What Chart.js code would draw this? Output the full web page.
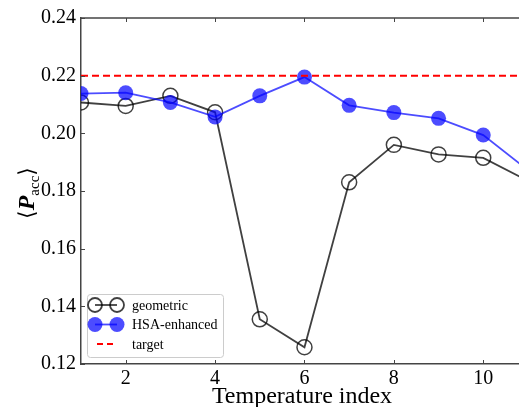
<!DOCTYPE html>
<html>
<head>
<meta charset="utf-8">
<script src="https://cdn.jsdelivr.net/npm/chart.js@4/dist/chart.umd.min.js"></script>
<style>
html,body{margin:0;padding:0;background:#fff;}
canvas{display:block;}
</style>
</head>
<body>
<canvas id="c" width="519" height="407"></canvas>
<script>
// ---- data ----
const temperatureIndex = [1, 2, 3, 4, 5, 6, 7, 8, 9, 10, 11];
const geometric   = [0.2107, 0.2095, 0.2130, 0.2073, 0.1355, 0.1258, 0.1830, 0.1960, 0.1927, 0.1915, 0.1835];
const hsaEnhanced = [0.2138, 0.2141, 0.2107, 0.2057, 0.2130, 0.2195, 0.2097, 0.2072, 0.2052, 0.1994, 0.1872];
const targetValue = 0.22;
const targetX = [1, 10.8];
const xTicks = [2, 4, 6, 8, 10];
const yTicks = [0.12, 0.14, 0.16, 0.18, 0.20, 0.22, 0.24];
const seriesLabels = ['geometric', 'HSA-enhanced', 'target'];
const xTitle = 'Temperature index';

const SERIF = '"Liberation Serif", "DejaVu Serif", serif';
const BLUE = 'rgba(0,0,255,0.7)';
const DARK = 'rgba(0,0,0,0.75)';

const toXY = (xs, ys) => xs.map((x, i) => ({x, y: ys[i]}));

const decorPlugin = {
  id: 'decor',
  afterDraw(chart) {
    const ctx = chart.ctx;
    const a = chart.chartArea;
    const xs = chart.scales.x, ys = chart.scales.y;
    ctx.save();
    // top spine
    ctx.strokeStyle = '#444';
    ctx.lineWidth = 1.5;
    ctx.beginPath();
    ctx.moveTo(a.left, a.top); ctx.lineTo(a.right, a.top);
    ctx.stroke();
    // inward ticks
    ctx.lineWidth = 1;
    ctx.strokeStyle = '#444';
    ctx.beginPath();
    xTicks.forEach(v => {
      const px = Math.round(xs.getPixelForValue(v)) + 0.5;
      ctx.moveTo(px, a.bottom); ctx.lineTo(px, a.bottom - 4);
      ctx.moveTo(px, a.top); ctx.lineTo(px, a.top + 4);
    });
    yTicks.forEach(v => {
      const py = Math.round(ys.getPixelForValue(v)) + 0.5;
      ctx.moveTo(a.left, py); ctx.lineTo(a.left + 4, py);
    });
    ctx.stroke();

    // x title
    ctx.fillStyle = '#000';
    ctx.font = '24px ' + SERIF;
    ctx.textAlign = 'center';
    ctx.textBaseline = 'alphabetic';
    ctx.fillText(xTitle, (a.left + a.right) / 2 + 2, 403);

    // y title  <P_acc>
    ctx.translate(26, 193);
    ctx.rotate(-Math.PI / 2);
    const parts = [
      {t: '\u27E8', f: '22px "DejaVu Serif", serif', dy: 0},
      {t: 'P', f: 'italic bold 24px ' + SERIF, dy: 0},
      {t: 'acc', f: '15px ' + SERIF, dy: 5},
      {t: '\u27E9', f: '22px "DejaVu Serif", serif', dy: 0}
    ];
    let total = 0;
    parts.forEach(p => { ctx.font = p.f; p.w = ctx.measureText(p.t).width; total += p.w; });
    let cx = -total / 2;
    ctx.textAlign = 'left';
    parts.forEach(p => { ctx.font = p.f; ctx.fillText(p.t, cx, 8 + p.dy); cx += p.w; });
    ctx.restore();

    // legend
    ctx.save();
    const lx = 87.5, ly = 294.5, lw = 136, lh = 63;
    ctx.fillStyle = 'rgba(255,255,255,0.9)';
    ctx.strokeStyle = '#ccc';
    ctx.lineWidth = 1;
    ctx.beginPath();
    ctx.roundRect(lx, ly, lw, lh, 3);
    ctx.fill(); ctx.stroke();
    const rows = [305, 324.5, 344];
    const m1 = 95, m2 = 117;
    // geometric
    ctx.strokeStyle = DARK; ctx.lineWidth = 1.8;
    ctx.beginPath(); ctx.moveTo(m1, rows[0]); ctx.lineTo(m2, rows[0]); ctx.stroke();
    [m1, m2].forEach(mx => { ctx.beginPath(); ctx.arc(mx, rows[0], 7, 0, Math.PI * 2); ctx.stroke(); });
    // HSA
    ctx.fillStyle = BLUE;
    [m1, m2].forEach(mx => { ctx.beginPath(); ctx.arc(mx, rows[1], 7.5, 0, Math.PI * 2); ctx.fill(); });
    ctx.strokeStyle = BLUE; ctx.lineWidth = 1.8;
    ctx.beginPath(); ctx.moveTo(m1, rows[1]); ctx.lineTo(m2, rows[1]); ctx.stroke();
    // target
    ctx.strokeStyle = '#ff0000'; ctx.lineWidth = 2;
    ctx.setLineDash([6, 4]);
    ctx.beginPath(); ctx.moveTo(97, rows[2]); ctx.lineTo(115, rows[2]); ctx.stroke();
    ctx.setLineDash([]);
    ctx.fillStyle = '#000';
    ctx.font = '14px ' + SERIF;
    ctx.textAlign = 'left';
    ctx.textBaseline = 'middle';
    seriesLabels.forEach((s, i) => ctx.fillText(s, 132, rows[i] + 1));
    ctx.restore();
  }
};

new Chart(document.getElementById('c'), {
  type: 'line',
  data: {
    datasets: [
      {
        label: seriesLabels[0],
        data: toXY(temperatureIndex, geometric),
        borderColor: DARK,
        borderWidth: 1.8,
        pointRadius: 7.5,
        pointBorderWidth: 1.5,
        pointBorderColor: DARK,
        pointBackgroundColor: 'rgba(0,0,0,0)',
        fill: false,
        tension: 0,
        clip: 0,
        order: 3
      },
      {
        label: seriesLabels[1],
        data: toXY(temperatureIndex, hsaEnhanced),
        borderColor: BLUE,
        borderWidth: 1.8,
        pointRadius: 7.5,
        pointBorderWidth: 0,
        pointBackgroundColor: BLUE,
        pointBorderColor: BLUE,
        fill: false,
        tension: 0,
        clip: 0,
        order: 2
      },
      {
        label: seriesLabels[2],
        data: toXY(targetX, targetX.map(() => targetValue)),
        borderColor: '#ff0000',
        borderWidth: 2,
        borderDash: [7, 4],
        pointRadius: 0,
        fill: false,
        clip: 0,
        order: 1
      }
    ]
  },
  options: {
    responsive: false,
    animation: false,
    events: [],
    layout: {autoPadding: false, padding: {top: 18, left: 0, right: 0, bottom: 0}},
    plugins: {legend: {display: false}, tooltip: {enabled: false}},
    scales: {
      x: {
        type: 'linear',
        min: 1, max: 10.8,
        afterBuildTicks: s => { s.ticks = xTicks.map(v => ({value: v})); },
        afterFit: s => { s.height = 43; s.paddingLeft = 0; s.paddingRight = 0; },
        grid: {display: true, drawOnChartArea: false, drawTicks: false},
        border: {display: true, color: '#444', width: 1.5},
        ticks: {color: '#000', font: {family: SERIF, size: 20}, padding: 3, maxRotation: 0}
      },
      y: {
        type: 'linear',
        min: 0.12, max: 0.24,
        afterBuildTicks: s => { s.ticks = yTicks.map(v => ({value: v})); },
        afterFit: s => { s.width = 81; s.paddingTop = 0; s.paddingBottom = 0; },
        grid: {display: true, drawOnChartArea: false, drawTicks: false},
        border: {display: true, color: '#444', width: 1.5},
        ticks: {color: '#000', font: {family: SERIF, size: 20}, padding: 5,
                callback: v => v.toFixed(2)}
      }
    }
  },
  plugins: [decorPlugin]
});
</script>
</body>
</html>
